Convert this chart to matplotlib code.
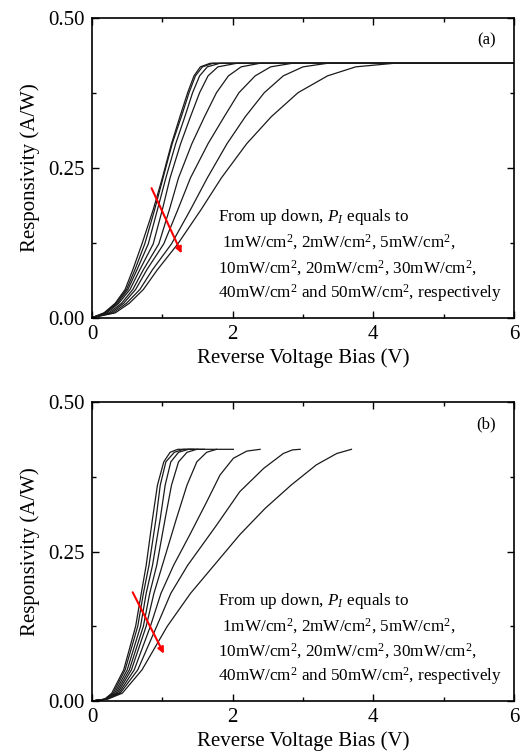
import numpy as np
import matplotlib
matplotlib.use("Agg")
import matplotlib.pyplot as plt
from matplotlib.ticker import MultipleLocator

plt.rcParams['font.family'] = ['Liberation Serif', 'DejaVu Serif']
plt.rcParams['mathtext.fontset'] = 'custom'
plt.rcParams['mathtext.rm'] = 'Liberation Serif'
plt.rcParams['mathtext.it'] = 'Liberation Serif:italic'

# Panel (a): curves run out to 6 V on the plateau
# responsivity levels shared by all curves in (a)
a_resp = [0, .008, .024, .047, .08, .123, .18, .233, .29, .335, .375, .403, .418, .424, .424]
a_volt = [
    [0, .17, .33, .47, .58, .71, .87, 1.00, 1.13, 1.25, 1.36, 1.45, 1.54, 1.68, 6],
    [0, .18, .34, .49, .61, .75, .89, 1.01, 1.14, 1.27, 1.38, 1.47, 1.57, 1.72, 6],
    [0, .19, .36, .51, .64, .80, .93, 1.05, 1.19, 1.32, 1.43, 1.53, 1.64, 1.82, 6],
    [0, .21, .38, .54, .68, .87, 1.00, 1.11, 1.26, 1.40, 1.53, 1.65, 1.79, 2.06, 6],
    [0, .24, .42, .58, .73, .95, 1.10, 1.23, 1.42, 1.60, 1.77, 1.94, 2.12, 2.39, 6],
    [0, .27, .45, .62, .78, 1.02, 1.22, 1.40, 1.65, 1.88, 2.09, 2.32, 2.54, 2.85, 6],
    [0, .30, .49, .68, .86, 1.13, 1.40, 1.64, 1.92, 2.18, 2.45, 2.72, 3.00, 3.35, 6],
    [0, .33, .53, .73, .93, 1.22, 1.55, 1.84, 2.20, 2.55, 2.93, 3.35, 3.75, 4.30, 6],
]

# Panel (b): curves stop shortly after saturation
b_resp_short = [0, .003, .013, .052, .125, .18, .227, .305, .361, .40, .416, .421, .421]
b_volt = [
    [0, .18, .28, .45, .62, .70, .77, .86, .93, 1.02, 1.11, 1.22, 1.45],
    [0, .18, .30, .47, .65, .73, .81, .91, .97, 1.05, 1.17, 1.30, 1.50],
    [0, .19, .32, .50, .69, .77, .86, .97, 1.04, 1.12, 1.23, 1.37, 1.60],
    [0, .19, .34, .53, .73, .82, .92, 1.04, 1.13, 1.23, 1.35, 1.49, 1.77],
    [0, .20, .36, .56, .77, .88, 1.00, 1.20, 1.35, 1.49, 1.63, 1.77, 2.01],
    [0, .20, .38, .60, .83, .98, 1.16, 1.39, 1.63, 1.82, 2.01, 2.20, 2.39],
    [0, .21, .40, .65, .92, 1.12, 1.36, 1.77, 2.10, 2.44, 2.72, 2.85, 2.96],
    [0, .22, .43, .71, 1.07, 1.40, 1.70, 2.10, 2.46, 2.83, 3.19, 3.48, 3.69],
]
b_resp = [
    b_resp_short, b_resp_short, b_resp_short, b_resp_short, b_resp_short,
    [0, .003, .013, .052, .125, .18, .227, .278, .333, .378, .406, .418, .421],
    [0, .003, .013, .052, .125, .18, .227, .294, .35, .389, .414, .420, .421],
    [0, .003, .013, .052, .125, .18, .222, .278, .322, .361, .395, .414, .421],
]

note_lines = [
    r'From up down, $P_I$ equals to',
    r' 1mW/cm$^2$, 2mW/cm$^2$, 5mW/cm$^2$,',
    r'10mW/cm$^2$, 20mW/cm$^2$, 30mW/cm$^2$,',
    r'40mW/cm$^2$ and 50mW/cm$^2$, respectively',
]

fig = plt.figure(figsize=(5.26, 7.51), dpi=100)
ax_a = fig.add_axes([0.175, 0.577, 0.802, 0.3995])
ax_b = fig.add_axes([0.175, 0.0666, 0.802, 0.398])


def style(ax, tag, arrow):
    ax.set_xlim(0, 6)
    ax.set_ylim(0, 0.5)
    ax.xaxis.set_major_locator(MultipleLocator(2))
    ax.xaxis.set_minor_locator(MultipleLocator(1))
    ax.yaxis.set_major_locator(MultipleLocator(0.25))
    ax.yaxis.set_minor_locator(MultipleLocator(0.125))
    ax.yaxis.set_major_formatter(matplotlib.ticker.FormatStrFormatter('%.2f'))
    ax.tick_params(which='both', direction='in', top=True, right=True,
                   labelsize=15, width=1)
    ax.tick_params(which='major', length=5, pad=5)
    ax.tick_params(which='minor', length=3)
    for s in ax.spines.values():
        s.set_linewidth(1.2)
    ax.set_xlabel('Reverse Voltage Bias (V)', fontsize=15, labelpad=3)
    ax.set_ylabel('Responsivity (A/W)', fontsize=15, labelpad=6)
    ax.text(5.61, 0.462, tag, fontsize=12, ha='center', va='center')
    ax.annotate('', xy=arrow[1], xytext=arrow[0],
                arrowprops=dict(arrowstyle='-|>', color='red', lw=1.5,
                                mutation_scale=9))
    for i, line in enumerate(note_lines):
        ax.text(1.79, 0.167 - i * 0.042, line, fontsize=12.3, ha='left', va='center')


for v in a_volt:
    ax_a.plot(v, a_resp, color='#1a1a1a', lw=0.9)
for v, r in zip(b_volt, b_resp):
    ax_b.plot(v, r, color='#1a1a1a', lw=0.9)

style(ax_a, '(a)', [(0.83, 0.22), (1.29, 0.103)])
style(ax_b, '(b)', [(0.56, 0.186), (1.04, 0.075)])

fig.savefig('out.png', dpi=100)
